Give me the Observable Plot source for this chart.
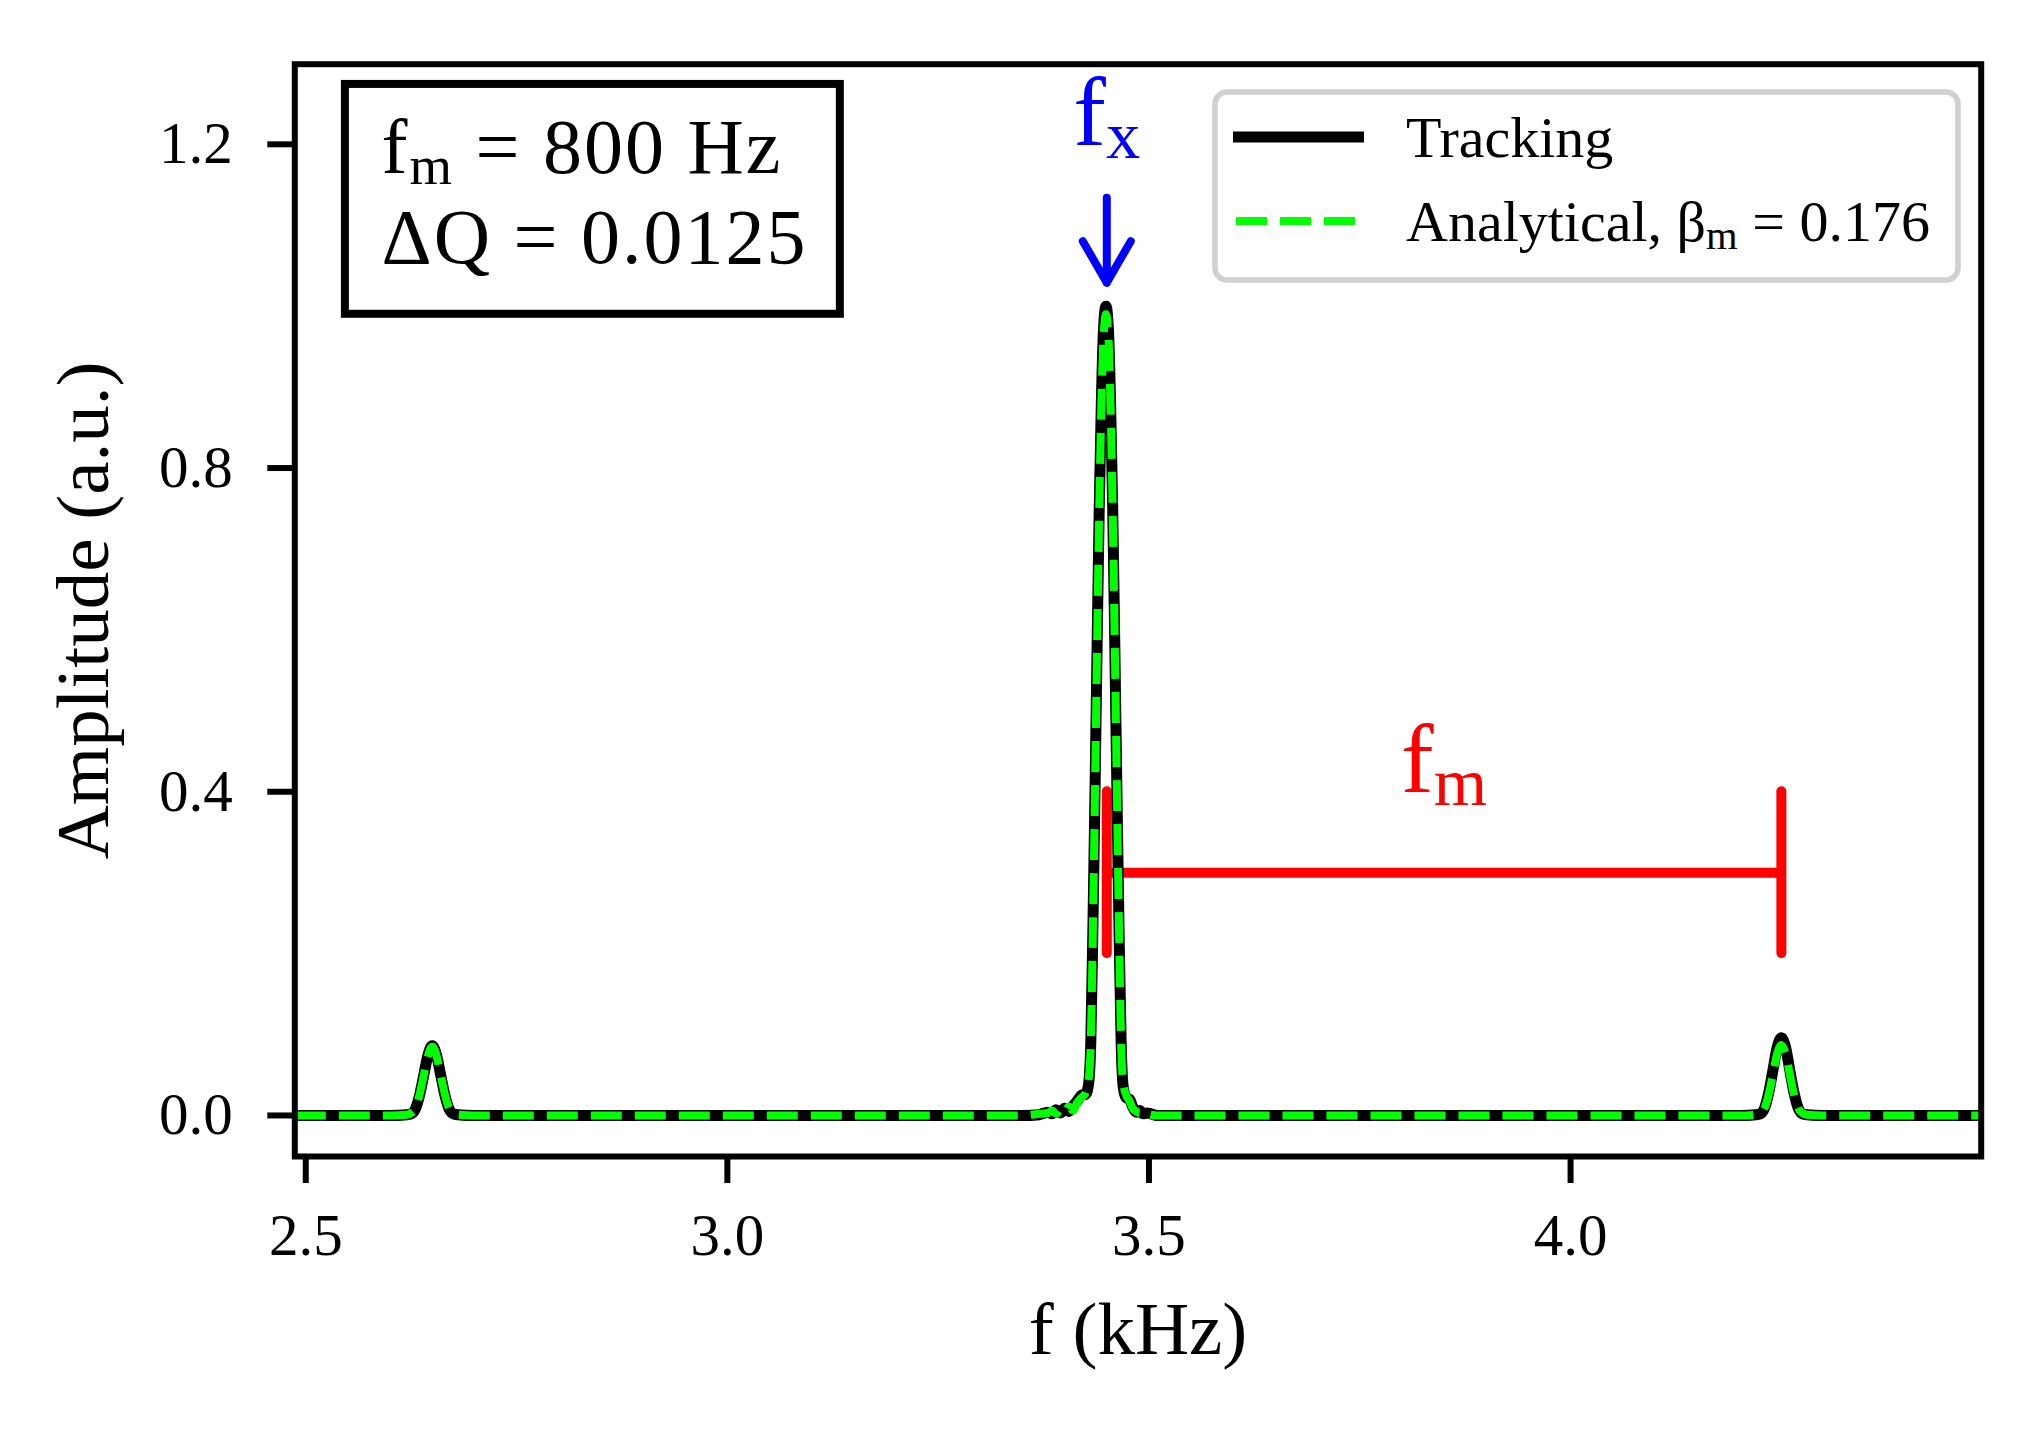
<!DOCTYPE html>
<html><head><meta charset="utf-8">
<script src="https://cdn.jsdelivr.net/npm/d3@7"></script>
<script src="https://cdn.jsdelivr.net/npm/@observablehq/plot@0.6"></script>
<style>html,body{margin:0;padding:0;background:#fff;overflow:hidden}</style>
</head><body><div id="chart"></div>
<script>
// ---------- data ----------
const xTicks = [2.5, 3.0, 3.5, 4.0];
const yTicks = [0.0, 0.4, 0.8, 1.2];
const xDomain = [2.487, 4.487];
const yDomain = [-0.0507, 1.299];

const trackingF = [2.487, 2.55, 2.60, 2.62, 2.625, 2.63, 2.635, 2.64, 2.645, 2.65, 2.655, 2.66, 2.665, 2.67, 2.675, 2.68, 2.70, 2.80, 3.00, 3.20, 3.35, 3.37, 3.38, 3.385, 3.39, 3.395, 3.40, 3.405, 3.41, 3.415, 3.42, 3.425, 3.4285, 3.431, 3.4335, 3.436, 3.4385, 3.441, 3.4435, 3.446, 3.449, 3.452, 3.4545, 3.457, 3.4595, 3.462, 3.4645, 3.467, 3.4695, 3.473, 3.477, 3.481, 3.485, 3.489, 3.493, 3.498, 3.51, 3.70, 3.90, 4.10, 4.20, 4.22, 4.225, 4.23, 4.235, 4.24, 4.245, 4.25, 4.255, 4.26, 4.265, 4.27, 4.275, 4.28, 4.30, 4.40, 4.487];
const trackingA = [0, 0, 0, 0.001, 0.002, 0.008, 0.025, 0.050, 0.075, 0.086, 0.075, 0.050, 0.025, 0.008, 0.002, 0.001, 0, 0, 0, 0, 0, 0.001, 0.004, 0.002, 0.007, 0.003, 0.009, 0.005, 0.012, 0.018, 0.025, 0.026, 0.04, 0.09, 0.23, 0.40, 0.58, 0.75, 0.88, 0.97, 1.0, 0.97, 0.88, 0.75, 0.58, 0.40, 0.23, 0.09, 0.035, 0.022, 0.02, 0.01, 0.004, 0.006, 0.002, 0.003, 0, 0, 0, 0, 0, 0.001, 0.002, 0.009, 0.028, 0.056, 0.084, 0.096, 0.084, 0.056, 0.028, 0.009, 0.002, 0.001, 0, 0, 0];

const analyticalF = [2.487, 2.60, 2.62, 2.625, 2.63, 2.635, 2.64, 2.645, 2.65, 2.655, 2.66, 2.665, 2.67, 2.675, 2.68, 2.70, 3.00, 3.35, 3.37, 3.38, 3.385, 3.39, 3.395, 3.40, 3.405, 3.41, 3.415, 3.42, 3.425, 3.4285, 3.431, 3.4335, 3.436, 3.4385, 3.441, 3.4435, 3.446, 3.449, 3.452, 3.4545, 3.457, 3.4595, 3.462, 3.4645, 3.467, 3.4695, 3.473, 3.477, 3.481, 3.485, 3.489, 3.493, 3.498, 3.51, 4.20, 4.22, 4.225, 4.23, 4.235, 4.24, 4.245, 4.25, 4.255, 4.26, 4.265, 4.27, 4.275, 4.28, 4.30, 4.487];
const analyticalA = [0, 0, 0.001, 0.003, 0.009, 0.026, 0.050, 0.074, 0.085, 0.074, 0.050, 0.026, 0.009, 0.003, 0.001, 0, 0, 0, 0.002, 0.003, 0.006, 0.002, 0.008, 0.004, 0.011, 0.006, 0.016, 0.022, 0.028, 0.045, 0.09, 0.23, 0.40, 0.58, 0.745, 0.875, 0.96, 0.99, 0.96, 0.875, 0.745, 0.58, 0.40, 0.23, 0.09, 0.04, 0.025, 0.018, 0.008, 0.005, 0.003, 0.006, 0.002, 0, 0, 0.001, 0.003, 0.009, 0.026, 0.051, 0.076, 0.087, 0.076, 0.051, 0.026, 0.009, 0.003, 0.001, 0, 0];

const legendLabels = ["Tracking", "Analytical, β_{m} = 0.176"];
const infoLines = ["f_{m} = 800 Hz", "ΔQ = 0.0125"];

// annotation values (kHz / a.u.)
const fx = 3.45;
const fUpperSideband = 4.25;
const bracketLevel = 0.3;
const bracketBar = [0.2, 0.4];
const fxArrowSpan = [1.207, 1.029];
const fxLabel = [{text: "f_{x}", f: 3.45, a: 1.199}];
const fmLabel = [{text: "f_{m}", f: 3.85, a: 0.40}];
const infoBox = [{f1: 2.547, f2: 3.134, a1: 0.990, a2: 1.274}];
const infoTextF = 2.5898;
const infoLineA = [1.164, 1.053];
const yLabelPos = [{text: "Amplitude (a.u.)", f: 2.2652, a: 0.624}];

// ---------- build ----------
const tracking = trackingF.map((f, i) => ({f, a: trackingA[i]}));
const analytical = analyticalF.map((f, i) => ({f, a: analyticalA[i]}));
const serif = "'Liberation Serif', 'Times New Roman', serif";

const chart = Plot.plot({
  width: 2043, height: 1429,
  marginLeft: 294.3, marginRight: 62.3, marginTop: 63.7, marginBottom: 273,
  style: {fontFamily: serif, fontSize: "59px", color: "black", background: "white", overflow: "visible"},
  x: {domain: xDomain, label: null},
  y: {domain: yDomain, label: null},
  marks: [
    Plot.axisX({ticks: xTicks, tickFormat: d3.format(".1f"), tickSize: 27, tickPadding: 30, strokeWidth: 6, fontSize: 59, label: null}),
    Plot.axisY({ticks: yTicks, tickFormat: d3.format(".1f"), tickSize: 27, tickPadding: 35, strokeWidth: 6, fontSize: 59, label: null}),
    Plot.ruleX([fx, fUpperSideband], {y1: bracketBar[0], y2: bracketBar[1], stroke: "#ff0000", strokeWidth: 10, strokeLinecap: "round"}),
    Plot.link([0], {x1: fx, x2: fUpperSideband, y1: bracketLevel, y2: bracketLevel, stroke: "#ff0000", strokeWidth: 10, strokeLinecap: "butt"}),
    Plot.line(tracking, {x: "f", y: "a", stroke: "black", strokeWidth: 11, curve: "monotone-x", clip: true, strokeLinejoin: "round", strokeLinecap: "butt"}),
    Plot.line(analytical, {x: "f", y: "a", stroke: "#00ff00", strokeWidth: 8, strokeDasharray: "31,13", curve: "monotone-x", clip: true, strokeLinejoin: "round", strokeLinecap: "butt"}),
    Plot.arrow([0], {x1: fx, x2: fx, y1: fxArrowSpan[0], y2: fxArrowSpan[1], stroke: "#0000ff", strokeWidth: 8, headLength: 9, headAngle: 60, insetStart: 59, strokeLinecap: "round", strokeLinejoin: "round"}),
    Plot.text(fxLabel, {x: "f", y: "a", text: "text", fill: "#0000ff", fontSize: 98, fontFamily: serif, textAnchor: "middle", lineAnchor: "bottom"}),
    Plot.text(fmLabel, {x: "f", y: "a", text: "text", fill: "#ff0000", fontSize: 98, fontFamily: serif, textAnchor: "middle", lineAnchor: "bottom"}),
    Plot.rect(infoBox, {x1: "f1", x2: "f2", y1: "a1", y2: "a2", fill: "white", stroke: "black", strokeWidth: 8}),
    Plot.text(infoLines, {x: infoTextF, y: (d, i) => infoLineA[i], text: d => d, fill: "black", fontSize: 78, fontFamily: serif, textAnchor: "start", lineAnchor: "bottom", className: "mathbox"}),
    Plot.frame({stroke: "black", strokeWidth: 6}),
    Plot.text(["f (kHz)"], {text: d => d, frameAnchor: "bottom", dy: 197, lineAnchor: "bottom", fontSize: 75, fontFamily: serif, fill: "black"}),
    Plot.text(yLabelPos, {x: "f", y: "a", text: "text", rotate: -90, textAnchor: "middle", lineAnchor: "bottom", fontSize: 75, fontFamily: serif, fill: "black"})
  ]
});
document.getElementById("chart").appendChild(chart);

// widen the mathtext-like lines of the info box slightly
chart.querySelectorAll("text").forEach(el => {
  if (infoLines.includes(el.textContent)) el.setAttribute("letter-spacing", "2");
});

// ---------- legend (inside the axes, upper right) ----------
const svg = d3.select(chart);
const lg = svg.append("g").attr("font-family", serif).attr("font-size", 58).attr("text-anchor", "start");
lg.append("rect").attr("x", 1215).attr("y", 92).attr("width", 743).attr("height", 188).attr("rx", 12)
  .attr("fill", "white").attr("stroke", "#d0d0d0").attr("stroke-width", 5.5);
const legendStyle = [
  {stroke: "black", width: 11, dash: null, x1: 1233, x2: 1364},
  {stroke: "#00ff00", width: 8, dash: "31,13", x1: 1236, x2: 1362}
];
const rowY = [137, 221];
legendLabels.forEach((label, i) => {
  const s = legendStyle[i];
  const ln = lg.append("line").attr("x1", s.x1).attr("x2", s.x2).attr("y1", rowY[i]).attr("y2", rowY[i])
    .attr("stroke", s.stroke).attr("stroke-width", s.width).attr("stroke-linecap", "butt");
  if (s.dash) ln.attr("stroke-dasharray", s.dash);
  lg.append("text").attr("x", 1406).attr("y", rowY[i] + 20).attr("fill", "black").attr("text-anchor", "start").text(label);
});

// ---------- subscripts ----------
const NS = "http://www.w3.org/2000/svg";
chart.querySelectorAll("text, tspan").forEach(el => {
  if (el.children.length) return;
  const s = el.textContent;
  if (!s.includes("_{")) return;
  const fs = parseFloat(getComputedStyle(el).fontSize);
  const parts = s.split(/(_\{[^}]*\})/);
  el.textContent = "";
  let shift = 0;
  parts.forEach(p => {
    if (!p) return;
    const t = document.createElementNS(NS, "tspan");
    if (p.startsWith("_{")) {
      t.textContent = p.slice(2, -1);
      t.setAttribute("font-size", fs * 0.7);
      shift = fs * 0.13;
      t.setAttribute("dy", shift);
    } else {
      t.textContent = p;
      if (shift) { t.setAttribute("dy", -shift); shift = 0; }
    }
    el.appendChild(t);
  });
});
</script>
</body></html>
